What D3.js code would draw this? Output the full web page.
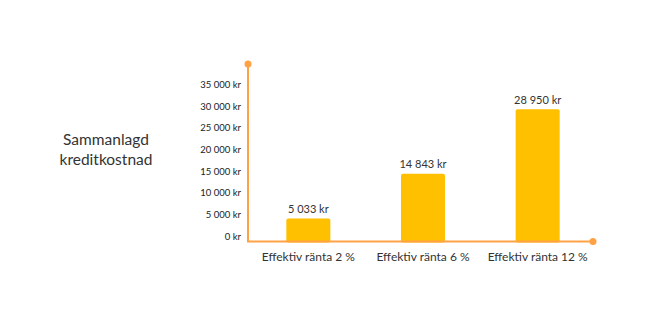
<!DOCTYPE html>
<html><head><meta charset="utf-8">
<script src="https://cdn.jsdelivr.net/npm/d3@7"></script>
<style>body{margin:0;background:#fff;} svg{display:block;}</style>
</head><body>
<svg id="c" width="668" height="317"></svg>
<script>
const categories = ["Effektiv ränta 2 %", "Effektiv ränta 6 %", "Effektiv ränta 12 %"];
const values = [5033, 14843, 28950];
const valueLabels = ["5 033 kr", "14 843 kr", "28 950 kr"];
const tickValues = [0, 5000, 10000, 15000, 20000, 25000, 30000, 35000];
const tickLabels = ["0 kr", "5 000 kr", "10 000 kr", "15 000 kr", "20 000 kr", "25 000 kr", "30 000 kr", "35 000 kr"];
const titleLines = ["Sammanlagd", "kreditkostnad"];

const svg = d3.select("#c");
const font = "Lato, 'Open Sans', sans-serif";
const axisColor = "#FFA245";
const barColor = "#FFC000";
const x0 = 248, yBase = 241.5, xEnd = 593, yTop = 64;

const y = d3.scaleLinear().domain([0, 28950]).range([yBase, 109.3]);
const yLab = d3.scaleLinear().domain([0, 35000]).range([236.5, 84.5]);
const x = d3.scaleBand().domain(categories).range([251, 595]).paddingInner(0.616).paddingOuter(0.308);

// bars
svg.selectAll("rect.bar").data(values).enter().append("rect")
  .attr("x", (d,i) => x(categories[i]))
  .attr("width", x.bandwidth())
  .attr("y", d => y(d))
  .attr("height", d => yBase - y(d) + 1)
  .attr("rx", 2).attr("fill", barColor);

// axes
svg.append("line").attr("x1", x0).attr("x2", x0).attr("y1", yTop).attr("y2", yBase)
  .attr("stroke", axisColor).attr("stroke-width", 2);
svg.append("line").attr("x1", x0-1).attr("x2", xEnd).attr("y1", yBase).attr("y2", yBase)
  .attr("stroke", axisColor).attr("stroke-width", 2);
svg.append("circle").attr("cx", x0).attr("cy", yTop).attr("r", 3.5).attr("fill", axisColor);
svg.append("circle").attr("cx", xEnd).attr("cy", yBase).attr("r", 3.5).attr("fill", axisColor);

// tick labels
svg.selectAll("text.tick").data(tickValues).enter().append("text")
  .attr("x", 241).attr("y", d => yLab(d)).attr("dy", "0.35em")
  .attr("text-anchor", "end").attr("font-family", font).attr("font-size", 9.5)
  .attr("fill", "#222").text((d,i) => tickLabels[i]);

// value labels
svg.selectAll("text.val").data(values).enter().append("text")
  .attr("x", (d,i) => x(categories[i]) + x.bandwidth()/2)
  .attr("y", d => y(d) - 5.5)
  .attr("text-anchor", "middle").attr("font-family", font).attr("font-size", 11)
  .attr("fill", "#333").text((d,i) => valueLabels[i]);

// category labels
svg.selectAll("text.cat").data(categories).enter().append("text")
  .attr("x", d => x(d) + x.bandwidth()/2)
  .attr("y", 261)
  .attr("text-anchor", "middle").attr("font-family", font).attr("font-size", 12)
  .attr("fill", "#333").text(d => d);

// title
svg.selectAll("text.title").data(titleLines).enter().append("text")
  .attr("x", 106).attr("y", (d,i) => 145 + i*20)
  .attr("text-anchor", "middle").attr("font-family", font).attr("font-size", 15.5)
  .attr("fill", "#333").text(d => d);
</script>
</body></html>
